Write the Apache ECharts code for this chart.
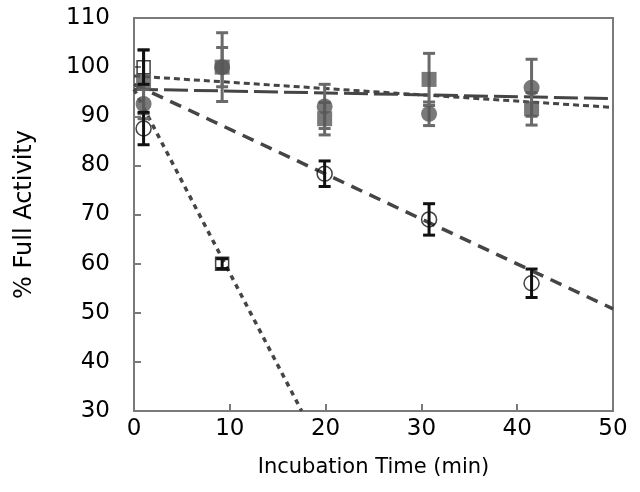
<!DOCTYPE html>
<html><head><meta charset="utf-8">
<script src="https://cdn.jsdelivr.net/npm/echarts@6/dist/echarts.min.js"></script>
<style>html,body{margin:0;padding:0;background:#fff}#c{width:640px;height:492px}</style>
</head><body><div id="c"></div>
<script>
// Data
var times = [1, 9.2, 19.9, 30.8, 41.5];
var openCircle = [87.5, null, 78.3, 69, 56];
var openCircleErr = [3.3, null, 2.6, 3.2, 2.9];
var openSquare = [100, 60, null, null, null];
var openSquareErr = [3.5, 1, null, null, null];
var filledCircle = [92.5, 100, 92, 90.5, 95.8];
var filledCircleErr = [3, 4, 4.5, 2.4, 5.8];
var filledSquare = [97, 100, 89.5, 97.5, 91.5];
var filledSquareErr = [6.5, 7, 3.3, 5.3, 3.3];
// Fit lines (end points)
var fitOpenCircle = [[0, 96.5], [50, 50.8]];
var fitOpenSquare = [[0, 95.5], [17.5, 30]];
var fitFilledShort = [[0, 98.2], [50, 91.8]];
var fitFilledLong = [[0, 95.5], [50, 93.6]];
var xTicks = [0, 10, 20, 30, 40, 50];
var yTicks = [30, 40, 50, 60, 70, 80, 90, 100, 110];

function pts(vals) { var o = []; for (var i = 0; i < times.length; i++) if (vals[i] != null) o.push([times[i], vals[i]]); return o; }
function errs(vals, e) { var o = []; for (var i = 0; i < times.length; i++) if (vals[i] != null && e[i] != null) o.push([times[i], vals[i] - e[i], vals[i] + e[i]]); return o; }
function errSeries(data, color, z) {
  return {
    type: 'custom', z: z, data: data, silent: true,
    renderItem: function (params, api) {
      var x = api.value(0), lo = api.coord([x, api.value(1)]), hi = api.coord([x, api.value(2)]);
      var w = 6;
      var st = { stroke: color, lineWidth: 3 };
      return { type: 'group', children: [
        { type: 'line', shape: { x1: lo[0], y1: lo[1], x2: hi[0], y2: hi[1] }, style: st },
        { type: 'line', shape: { x1: lo[0] - w, y1: lo[1], x2: lo[0] + w, y2: lo[1] }, style: st },
        { type: 'line', shape: { x1: hi[0] - w, y1: hi[1], x2: hi[0] + w, y2: hi[1] }, style: st }
      ]};
    }
  };
}
function fit(data, dash, w) {
  return { type: 'line', data: data, symbol: 'none', z: 3, silent: true,
    lineStyle: { color: '#454545', width: w, type: dash } };
}
var gray = '#585858';
var font = 'DejaVu Sans';
var chart = echarts.init(document.getElementById('c'));
chart.setOption({
  animation: false,
  grid: { left: 134, right: 27, top: 18, bottom: 81, show: true, borderColor: '#7a7a7a', borderWidth: 2 },
  xAxis: {
    type: 'value', min: 0, max: 50, interval: 10,
    name: 'Incubation Time (min)', nameLocation: 'middle', nameGap: 46,
    nameTextStyle: { fontFamily: font, fontSize: 21, color: '#000' },
    axisLine: { lineStyle: { color: '#7a7a7a', width: 2 } },
    axisTick: { inside: true, length: 7, lineStyle: { color: '#7a7a7a', width: 2 } },
    axisLabel: { fontFamily: font, fontSize: 23, color: '#000', margin: 7 },
    splitLine: { show: false }
  },
  yAxis: {
    type: 'value', min: 30, max: 110, interval: 10,
    name: '% Full Activity', nameLocation: 'middle', nameGap: 97, nameRotate: 90,
    nameTextStyle: { fontFamily: font, fontSize: 24, color: '#000' },
    axisLine: { lineStyle: { color: '#7a7a7a', width: 2 } },
    axisTick: { inside: true, length: 7, lineStyle: { color: '#7a7a7a', width: 2 } },
    axisLabel: { fontFamily: font, fontSize: 23, color: '#000', margin: 24 },
    splitLine: { show: false }
  },
  series: [
    fit(fitFilledShort, [6, 4], 3),
    fit(fitFilledLong, [24, 6], 3),
    fit(fitOpenCircle, [12, 8], 3.5),
    fit(fitOpenSquare, [5, 5], 3.5),
    errSeries(errs(filledSquare, filledSquareErr), '#6a6a6a', 4),
    errSeries(errs(filledCircle, filledCircleErr), '#6a6a6a', 4),
    errSeries(errs(openCircle, openCircleErr), '#111', 6),
    errSeries(errs(openSquare, openSquareErr), '#111', 6),
    { type: 'scatter', data: pts(filledSquare), symbol: 'rect', symbolSize: 15, z: 5,
      itemStyle: { color: gray } },
    { type: 'scatter', data: pts(filledCircle), symbol: 'circle', symbolSize: 16, z: 5,
      itemStyle: { color: gray } },
    { type: 'scatter', data: pts(openCircle), symbol: 'circle', symbolSize: 15, z: 7,
      itemStyle: { color: 'rgba(255,255,255,0)', borderColor: '#111', borderWidth: 1.5 } },
    { type: 'scatter', data: pts(openSquare), symbol: 'rect', symbolSize: 13, z: 7,
      itemStyle: { color: 'rgba(255,255,255,0)', borderColor: '#111', borderWidth: 1.5 } }
  ]
});
</script></body></html>
